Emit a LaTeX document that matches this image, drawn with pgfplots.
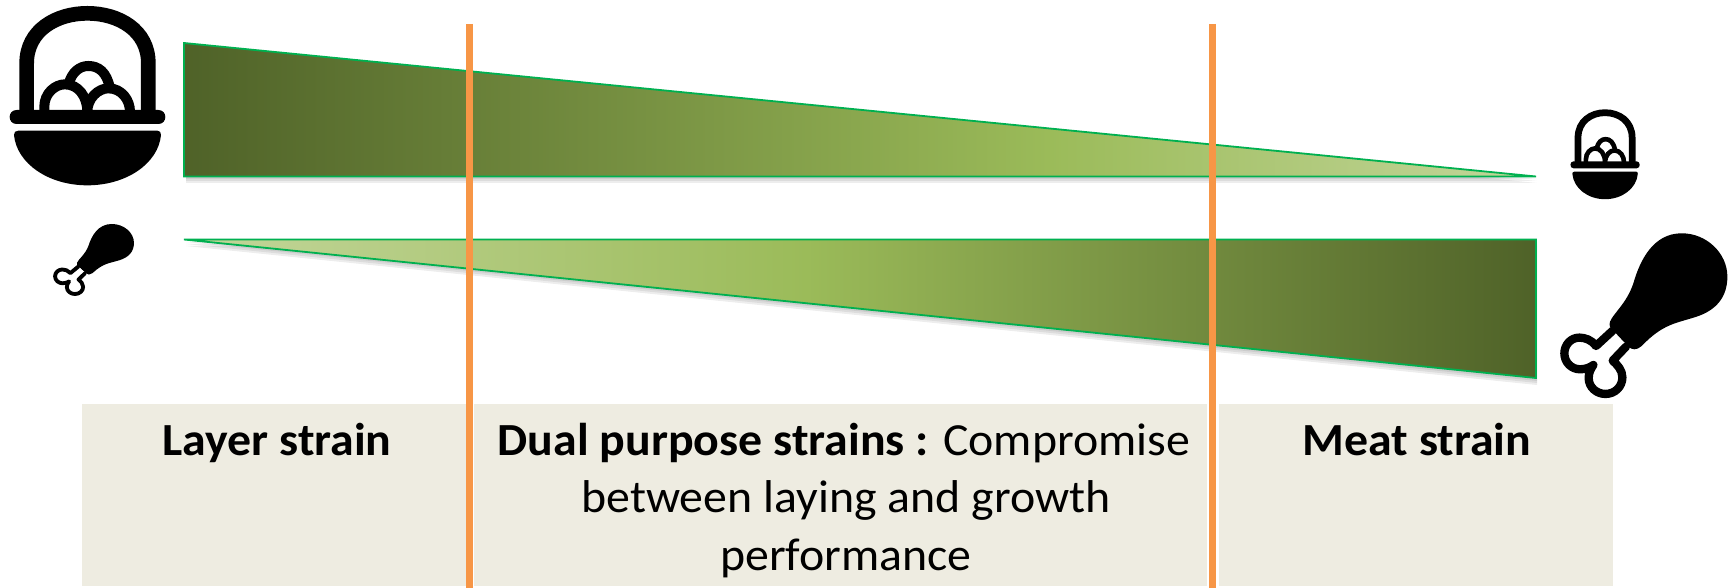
\documentclass[border=0pt]{standalone}
\usepackage{graphicx}
\usepackage{pgfplots}
\pgfplotsset{compat=1.18}
\usepackage{fontspec}
\setmainfont{Carlito}
\definecolor{panel}{HTML}{EEECE1}
\definecolor{divider}{HTML}{F79646}
\definecolor{edge}{HTML}{00B050}
\definecolor{fadedark}{HTML}{4F6228}
\definecolor{fademid}{HTML}{9BBB59}
\definecolor{fadelight}{HTML}{C3D69B}
% Wedge fills: dark at the productive end, light at the narrow end
\pgfdeclarehorizontalshading{layerfade}{100bp}{color(0bp)=(fadedark); color(25bp)=(fadedark); color(57bp)=(fademid); color(75bp)=(fadelight); color(100bp)=(fadelight)}
\pgfdeclarehorizontalshading{meatfade}{100bp}{color(0bp)=(fadelight); color(25bp)=(fadelight); color(48bp)=(fademid); color(75bp)=(fadedark); color(100bp)=(fadedark)}
% Caption text, slightly widened
\newcommand{\capt}[1]{\scalebox{1.04}[1]{\fontsize{46}{46}\selectfont #1}}

% Basket of eggs, in its own 3x coordinates
\newcommand{\basket}[1]{%
  \begin{scope}[line cap=butt]
    \draw[line width=#1*44pt/3] (80,345) -- (80,190) .. controls (80,90) and (170,40) .. (262,40) .. controls (355,40) and (445,90) .. (445,190) -- (445,345);
    \draw[line width=#1*30pt/3] (205,340) -- (205,255) .. controls (215,215) and (240,198) .. (265,198) .. controls (295,198) and (320,215) .. (330,265) -- (330,340);
    \draw[line width=#1*30pt/3,fill=white] (133,335) -- (133,320) .. controls (133,280) and (165,253) .. (195,253) .. controls (235,253) and (262,290) .. (262,335);
    \draw[line width=#1*30pt/3,fill=white] (262,335) .. controls (262,295) and (295,265) .. (325,265) .. controls (365,265) and (390,300) .. (390,335);
    \fill (50,330) -- (475,330) .. controls (503,330) and (503,372) .. (475,372) -- (50,372) .. controls (22,372) and (22,330) .. (50,330) -- cycle;
    \fill (55,392) -- (472,392) .. controls (480,392) and (483,397) .. (483,405) .. controls (475,490) and (380,556) .. (262,556) .. controls (145,556) and (50,490) .. (42,405) .. controls (42,397) and (46,392) .. (55,392) -- cycle;
  \end{scope}}
% Chicken drumstick, in its own 3x coordinates
\newcommand{\drumstick}[1]{%
  \fill (240,695) .. controls (250,670) and (290,640) .. (310,580) .. controls (330,510) and (370,430) .. (455,430) .. controls (530,430) and (592,490) .. (592,560) .. controls (592,620) and (560,660) .. (500,680) .. controls (440,700) and (400,700) .. (335,768) .. controls (320,782) and (305,780) .. (295,770) -- (250,722) .. controls (240,712) and (236,708) .. (240,695) -- cycle;
  \draw[line width=#1*25pt/3,line join=round,line cap=round,fill=white] (248,722) -- (198,768) .. controls (185,750) and (165,743) .. (148,743) .. controls (122,743) and (103,765) .. (103,790) .. controls (103,818) and (125,838) .. (150,838) .. controls (165,838) and (180,833) .. (190,825) .. controls (180,840) and (176,850) .. (176,865) .. controls (176,892) and (200,912) .. (226,912) .. controls (255,912) and (277,890) .. (277,862) .. controls (277,840) and (262,825) .. (248,812) -- (288,770);
}

\begin{document}
\begin{tikzpicture}
\begin{axis}[
  scale only axis, width=1735pt, height=588pt,
  xmin=0, xmax=1735, ymin=0, ymax=588, y dir=reverse,
  hide axis, clip=true,
]
  % Strain panels
  \addplot[fill=panel,draw=none] coordinates {(82,404) (466,404) (466,586) (82,586)} -- cycle;
  \addplot[fill=panel,draw=none] coordinates {(474,404) (1207,404) (1207,586) (474,586)} -- cycle;
  \addplot[fill=panel,draw=none] coordinates {(1219,404) (1613,404) (1613,586) (1219,586)} -- cycle;
  % Soft shadows under the wedges
  \addplot[fill=black,fill opacity=0.07,draw=none] coordinates {(186,45) (1537,179) (186,179)} -- cycle;
  \addplot[fill=black,fill opacity=0.07,draw=none] coordinates {(186,47) (1537,181) (186,181)} -- cycle;
  \addplot[fill=black,fill opacity=0.07,draw=none] coordinates {(186,49) (1537,183) (186,183)} -- cycle;
  \addplot[fill=black,fill opacity=0.07,draw=none] coordinates {(186,242) (1537,242) (1537,381)} -- cycle;
  \addplot[fill=black,fill opacity=0.07,draw=none] coordinates {(186,244) (1537,244) (1537,383)} -- cycle;
  \addplot[fill=black,fill opacity=0.07,draw=none] coordinates {(186,246) (1537,246) (1537,385)} -- cycle;
  % Laying and growth wedges
  \addplot[shade,shading=layerfade,draw=edge,line width=1.8pt] coordinates {(184,43) (1536,176.5) (184,176.5)} -- cycle;
  \addplot[shade,shading=meatfade,draw=edge,line width=1.8pt] coordinates {(184,239.5) (1536,239.5) (1536,378)} -- cycle;
  % Dividers between strain types
  \addplot[divider,line width=7pt] coordinates {(469.5,24) (469.5,588)};
  \addplot[divider,line width=7pt] coordinates {(1212.5,24) (1212.5,588)};
  % Panel captions
  \node[anchor=base] at (axis cs:277,455) {\capt{\textbf{Layer strain}}};
  \node[anchor=base] at (axis cs:844,455) {\capt{\textbf{Dual purpose strains :} Compromise}};
  \node[anchor=base] at (axis cs:846,512) {\capt{between laying and growth}};
  \node[anchor=base] at (axis cs:846,570) {\capt{performance}};
  \node[anchor=base] at (axis cs:1417,455) {\capt{\textbf{Meat strain}}};
\end{axis}
\path (0,0) rectangle (1735pt,588pt);
% Icons, placed in pixel coordinates from the top left corner
\begin{scope}[x=1pt,y=-1pt,shift={(0pt,588pt)}]
  \begin{scope}[scale=1/3]\basket{1}\end{scope}
  \begin{scope}[shift={(1605,109)},xscale=0.445/3,yscale=0.503/3,shift={(-262,-18)}]\basket{0.46}\end{scope}
  \begin{scope}[shift={(1560.7,233.3)},scale=1/3,shift={(-92,-430)}]\drumstick{1}\end{scope}
  \begin{scope}[shift={(53.3,224)},xscale=0.484/3,yscale=0.436/3,shift={(-92,-430)}]\drumstick{0.46}\end{scope}
\end{scope}
\end{tikzpicture}
\end{document}
